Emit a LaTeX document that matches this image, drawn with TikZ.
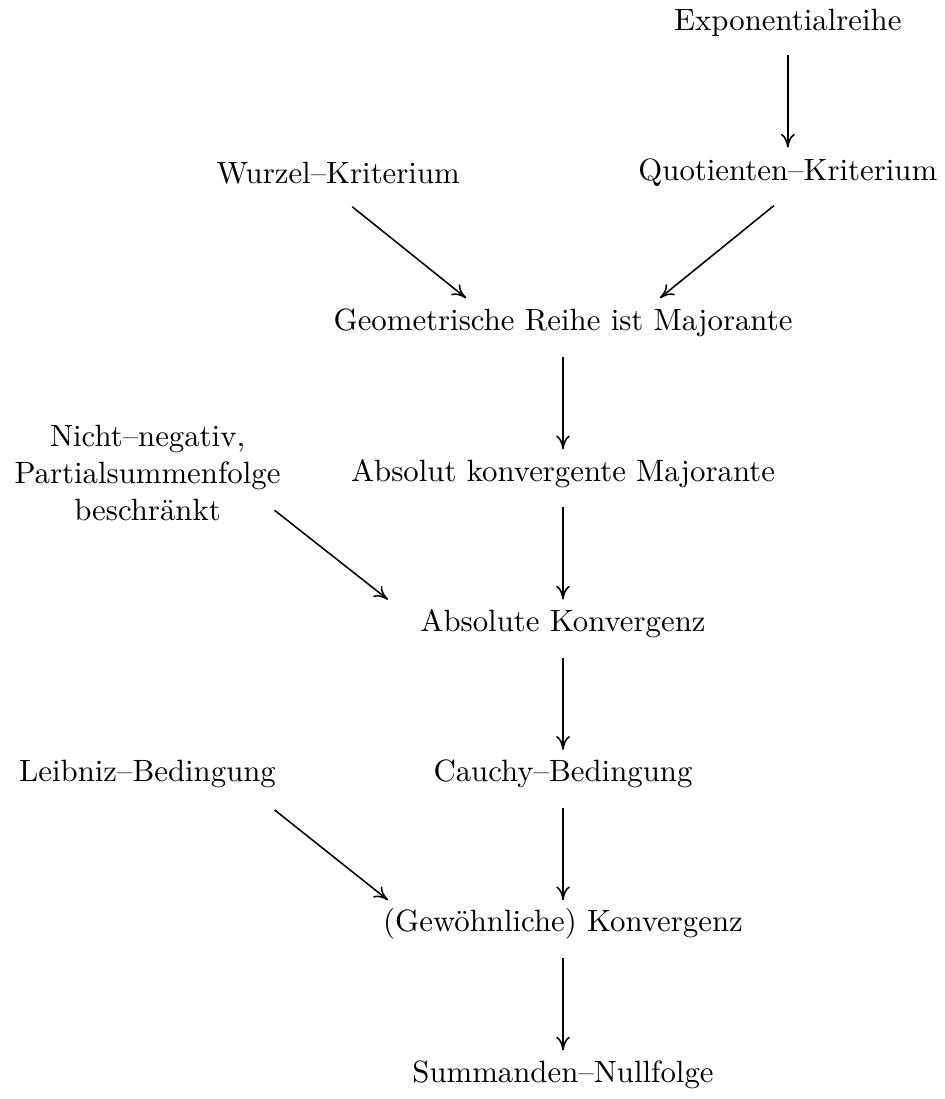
\documentclass[tikz,border=0pt]{standalone}
\usetikzlibrary{positioning,calc,arrows.meta}

\begin{document}
\begin{tikzpicture}[x=0.3247pt,y=-0.3247pt,node distance=48.8pt,on grid,
   impl/.style={-{Computer Modern Rightarrow[length=4.5pt,width=4.5pt]},line width=0.5pt}]
   \useasboundingbox (0,0) rectangle (944,1099);
   \node (geom) at (563,323) {Geometrische Reihe ist Majorante};
   \node (quot) [above right=48.8pt and 73pt of geom] {Quotienten–Kriterium};
   \node (wurzel) [above left=48.8pt and 73pt of geom] {Wurzel–Kriterium};
   \node (exp) [above=of quot] {Exponentialreihe};
   \node (akm) [below=of geom] {Absolut konvergente Majorante};
   \node (ak) [below=of akm] {Absolute Konvergenz};
   \node (cauchy) [below=of ak] {Cauchy–Bedingung};
   \node (gew) [below=of cauchy] {(Gewöhnliche) Konvergenz};
   \node (summ) [below=of gew] {Summanden–Nullfolge};
   \node (nicht) [left=134.9pt of akm,align=center] {Nicht–negativ,\\Partialsummenfolge\\beschränkt};
   \node (leibniz) [left=134.9pt of cauchy] {Leibniz–Bedingung};
   \draw[impl] ($(exp)+(0,33)$) -- ($(quot)+(0,-25)$);
   \draw[impl] ($(wurzel)+(14,34)$) -- ($(geom)+(-97,-25)$);
   \draw[impl] ($(quot)+(-14,33)$) -- ($(geom)+(97,-25)$);
   \draw[impl] ($(geom)+(0,34)$) -- ($(akm)+(0,-24)$);
   \draw[impl] ($(akm)+(0,34)$) -- ($(ak)+(0,-24)$);
   \draw[impl] ($(nicht)+(127,37)$) -- ($(ak)+(-175,-24)$);
   \draw[impl] ($(ak)+(0,34)$) -- ($(cauchy)+(0,-24)$);
   \draw[impl] ($(cauchy)+(0,34)$) -- ($(gew)+(0,-24)$);
   \draw[impl] ($(leibniz)+(127,36)$) -- ($(gew)+(-175,-24)$);
   \draw[impl] ($(gew)+(0,34)$) -- ($(summ)+(0,-24)$);
\end{tikzpicture}
\end{document}
